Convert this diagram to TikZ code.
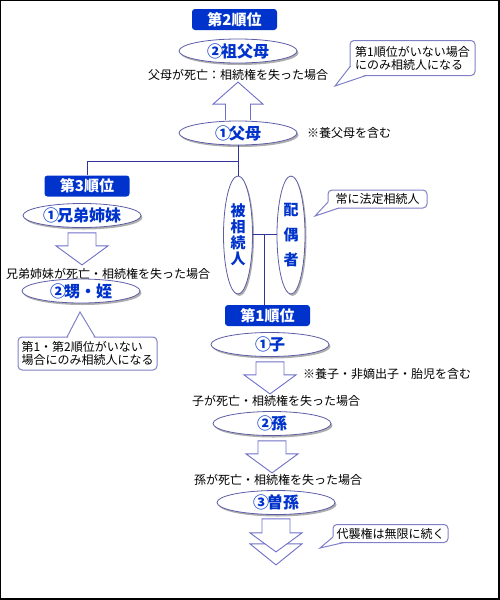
\documentclass[tikz,border=0pt]{standalone}
\usepackage{fontspec}
\setmainfont{Noto Sans CJK JP}
\usepackage{color}
\usepackage{tikz}
\usetikzlibrary{shapes, shapes.geometric, shadows}

\definecolor{rankBlue}{HTML}{0033CC}
\definecolor{lineNavy}{HTML}{333399}
\definecolor{ellipseEdge}{HTML}{5C5CA8}
\definecolor{arrowEdge}{HTML}{6F6FC8}
\definecolor{bubbleEdge}{HTML}{8080C8}

\begin{document}
\begin{tikzpicture}[
    x=1pt, y=-1pt,
    rankBox/.style={fill=rankBlue, rounded corners=3pt, text=white, inner sep=0pt,
        font=\fontsize{15}{15}\selectfont\bfseries, minimum width=85pt, minimum height=21pt},
    heirEllipse/.style={ellipse, draw=ellipseEdge, line width=0.8pt, fill=white, text=rankBlue, inner sep=0pt,
        font=\fontsize{16}{16}\selectfont\bfseries, minimum width=118pt, minimum height=24pt,
        drop shadow={shadow xshift=1.5pt, shadow yshift=-2pt, fill=black!45, opacity=0.7}},
    tallEllipse/.style={heirEllipse, minimum width=29pt, minimum height=118pt, align=center},
    noteText/.style={font=\fontsize{12}{12}\selectfont, inner sep=0pt},
    bubble/.style={draw=bubbleEdge, fill=white, rounded corners=4pt, line width=1pt,
        font=\fontsize{12}{13}\selectfont, align=left, inner sep=2pt},
    bubbleTail/.style={draw=bubbleEdge, line width=1pt, line join=miter},
    treeLine/.style={draw=lineNavy, line width=1pt},
    hollowArrow/.style={draw=arrowEdge, line width=0.9pt, line join=miter},
    downArrow/.pic={
        \draw[hollowArrow] (-14,0) -- (14,0) -- (14,13) -- (26,13) -- (0,32) -- (-26,13) -- (-14,13) -- cycle;
    },
    doubleArrow/.pic={
        \draw[hollowArrow] (-14,0) -- (14,0) -- (14,14) -- (26,14) -- (0,33) -- (-26,14) -- (-14,14) -- cycle;
        \draw[hollowArrow] (11,25) -- (26,25) -- (0,46) -- (-26,25) -- (-11,25);
    }
        ]
    \useasboundingbox (0,0) rectangle (500,600);
    \draw[line width=1pt] (0.5,599) -- (0.5,0.5) -- (499,0.5);
    \draw[line width=2pt] (0,599) -- (499,599) -- (499,0);

    % second rank: grandparents
    \node[rankBox] (rank2) at (234.5, 19.5) {第2順位};
    \node[heirEllipse] (grandparents) at (238, 51) {②\kern-2pt 祖父母};
    \node[noteText] (grandCond) at (238, 75) {父母が死亡：相続権を失った場合};
    \node[heirEllipse] (parents) at (238, 133) {①\kern-2pt 父母};
    \node[noteText, anchor=west] (parentsNote) at (307, 133) {※養父母を含む};
    \node[bubble, minimum width=125pt, minimum height=35pt] (note2) at (412.5, 58) {第1順位がいない場合\\にのみ相続人になる};
    \coordinate (note2Tip) at (335, 86);
    \fill[white] (352, 64) -- (note2Tip) -- (368, 74) -- (358, 70) -- cycle;
    \draw[bubbleTail] (350.5, 66) -- (note2Tip) -- (366, 75.5);

    \draw[hollowArrow] (parents.north) ++(-12.5,-0.5) -- ++(0,-16) -- ++(-12.5,0) -- ++(25,-22) -- ++(25,22) -- ++(-12.5,0) -- ++(0,16);

    % third rank: siblings
    \node[rankBox] (rank3) at (87, 186) {第3順位};
    \node[heirEllipse] (siblings) at (82, 215.5) {①\kern-2pt 兄弟姉妹};
    \node[noteText] (siblingCond) at (108, 274) {兄弟姉妹が死亡・相続権を失った場合};
    \node[heirEllipse] (nephews) at (81, 291) {②\kern-2pt 甥・姪};
    \node[bubble, minimum width=139pt, minimum height=33pt] (note3) at (87.5, 353.5) {第1・第2順位がいない\\場合にのみ相続人になる};
    \coordinate (note3Tip) at (80, 312);
    \fill[white] (68, 338) -- (note3Tip) -- (94, 338) -- cycle;
    \draw[bubbleTail] (67, 337) -- (note3Tip) -- (95, 337);

    \path (siblings.south) ++(0,5) pic {downArrow};

    % the deceased and the spouse
    \node[tallEllipse, font=\fontsize{15}{16}\selectfont\bfseries] (deceased) at (238, 235) {被\\相\\続\\人};
    \node[tallEllipse, font=\fontsize{15}{25}\selectfont\bfseries, minimum width=28pt] (spouse) at (291, 235) {配\\偶\\者};
    \node[bubble, minimum width=99pt, minimum height=18pt] (noteSpouse) at (377.5, 199) {常に法定相続人};
    \coordinate (noteSpouseTip) at (315, 216);
    \fill[white] (329.5, 201) -- (noteSpouseTip) -- (339, 207.5) -- (331, 206) -- cycle;
    \draw[bubbleTail] (328, 202) -- (noteSpouseTip) -- (339, 208);

    \coordinate (branch) at (238, 161);
    \coordinate (marriage) at (264, 234);
    \draw[treeLine] (parents.south) -- (deceased.north);
    \draw[treeLine] (branch) -| (rank3.north);
    \draw[treeLine] (deceased.east |- marriage) -- (spouse.west |- marriage);

    % first rank: children
    \node[rankBox] (rank1) at (267.5, 315.5) {第1順位};
    \draw[treeLine] (marriage) -- (marriage |- rank1.north);
    \node[heirEllipse] (child) at (270, 344.5) {①\kern-2pt 子};
    \node[noteText, anchor=west] (childNote) at (303, 374) {※養子・非嫡出子・胎児を含む};
    \node[noteText] (childCond) at (276, 401) {子が死亡・相続権を失った場合};
    \node[heirEllipse] (grandchild) at (272, 423.5) {②\kern-2pt 孫};
    \node[noteText] (grandchildCond) at (278, 480) {孫が死亡・相続権を失った場合};
    \node[heirEllipse] (greatGrandchild) at (276, 502.5) {③\kern-2pt 曽孫};
    \node[bubble, minimum width=115pt, minimum height=18pt] (noteInfinite) at (390.5, 533.5) {代襲権は無限に続く};
    \coordinate (noteInfiniteTip) at (320, 548);
    \fill[white] (334.5, 536) -- (noteInfiniteTip) -- (344, 541.5) -- (336, 540) -- cycle;
    \draw[bubbleTail] (333, 537) -- (noteInfiniteTip) -- (344, 542.5);

    \path (child.south) ++(0,5) pic {downArrow};
    \path (grandchild.south) ++(0,5) pic {downArrow};
    \path (greatGrandchild.south) ++(0,4) pic {doubleArrow};
\end{tikzpicture}
\end{document}
